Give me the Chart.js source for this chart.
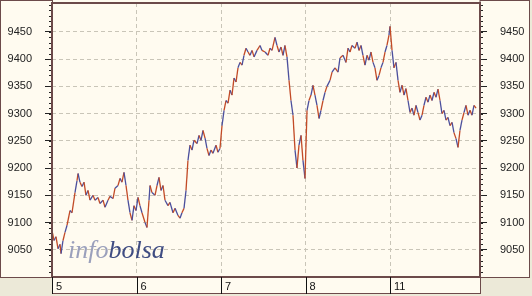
<!DOCTYPE html>
<html>
<head>
  <meta charset="UTF-8" />
  <title>infobolsa intraday</title>
  <style>
    * { margin: 0; padding: 0; }
    body { background: #ECE9D8; width: 532px; height: 296px; overflow: hidden; }
    canvas { display: block; }
  </style>
</head>
<body>
  <canvas id="chart" width="532" height="296"></canvas>

  <script src="https://cdn.jsdelivr.net/npm/chart.js"></script>
  <script>
    // session labels (one per day), position = day index
    const days = ['5', '6', '7', '8', '11'];
    const yTicks = [9050, 9100, 9150, 9200, 9250, 9300, 9350, 9400, 9450];

    // time in days since start of session "5"
    const times = [
      0.00, 0.024, 0.047, 0.071, 0.095, 0.107, 0.130, 0.154, 0.178, 0.213,
      0.237, 0.272, 0.296, 0.308, 0.331, 0.355, 0.379, 0.402, 0.426, 0.450,
      0.485, 0.509, 0.544, 0.568, 0.604, 0.627, 0.663, 0.686, 0.722, 0.746,
      0.781, 0.805, 0.828, 0.852, 0.876, 0.899, 0.923, 0.947, 0.970, 0.994,
      1.018, 1.041, 1.065, 1.101, 1.124, 1.148, 1.160, 1.183, 1.219, 1.243,
      1.266, 1.290, 1.314, 1.337, 1.373, 1.396, 1.432, 1.456, 1.491, 1.515,
      1.538, 1.562, 1.586, 1.609, 1.633, 1.657, 1.680, 1.716, 1.740, 1.763,
      1.787, 1.811, 1.834, 1.858, 1.882, 1.905, 1.941, 1.964, 1.988, 2.012,
      2.036, 2.059, 2.083, 2.107, 2.130, 2.154, 2.178, 2.201, 2.225, 2.249,
      2.272, 2.296, 2.320, 2.343, 2.367, 2.391, 2.426, 2.462, 2.485, 2.521,
      2.556, 2.580, 2.604, 2.639, 2.663, 2.686, 2.710, 2.734, 2.757, 2.781,
      2.805, 2.828, 2.852, 2.876, 2.899, 2.923, 2.947, 2.970, 2.994, 3.018,
      3.041, 3.065, 3.089, 3.112, 3.136, 3.160, 3.183, 3.207, 3.231, 3.254,
      3.290, 3.314, 3.349, 3.385, 3.408, 3.444, 3.479, 3.503, 3.527, 3.550,
      3.586, 3.610, 3.633, 3.657, 3.680, 3.704, 3.728, 3.751, 3.775, 3.799,
      3.822, 3.846, 3.870, 3.893, 3.917, 3.941, 3.964, 3.988, 4.000, 4.024,
      4.047, 4.071, 4.095, 4.118, 4.142, 4.166, 4.189, 4.213, 4.237, 4.260,
      4.284, 4.308, 4.331, 4.355, 4.379, 4.402, 4.426, 4.450, 4.473, 4.497,
      4.521, 4.544, 4.568, 4.592, 4.615, 4.639, 4.663, 4.686, 4.710, 4.734,
      4.757, 4.781, 4.805, 4.828, 4.852, 4.876, 4.899, 4.923, 4.947, 4.970,
      4.994, 5.018
    ];

    const prices = [
      9085, 9067, 9074, 9052, 9060, 9043, 9067, 9082, 9095, 9122,
      9118, 9155, 9177, 9190, 9174, 9166, 9174, 9150, 9159, 9141,
      9150, 9141, 9146, 9135, 9141, 9128, 9141, 9148, 9144, 9163,
      9168, 9181, 9174, 9192, 9168, 9141, 9118, 9104, 9131, 9122,
      9146, 9131, 9118, 9100, 9091, 9141, 9168, 9155, 9150, 9168,
      9183, 9159, 9168, 9141, 9131, 9137, 9118, 9126, 9113, 9108,
      9118, 9126, 9159, 9214, 9242, 9233, 9251, 9245, 9260, 9251,
      9269, 9255, 9236, 9223, 9233, 9227, 9242, 9229, 9236, 9278,
      9306, 9324, 9319, 9343, 9334, 9365, 9358, 9384, 9394, 9389,
      9407, 9420, 9413, 9407, 9416, 9404, 9416, 9425, 9416, 9413,
      9407, 9420, 9416, 9440, 9425, 9413, 9422, 9407, 9425, 9404,
      9361, 9324, 9297, 9233, 9200, 9242, 9260, 9214, 9181, 9306,
      9324, 9334, 9352, 9334, 9315, 9291, 9306, 9324, 9339, 9350,
      9361, 9376, 9384, 9376, 9402, 9407, 9394, 9420, 9413, 9425,
      9420, 9431, 9416, 9425, 9407, 9389, 9407, 9398, 9413, 9394,
      9384, 9361, 9370, 9384, 9394, 9413, 9425, 9444, 9460, 9416,
      9384, 9394, 9361, 9339, 9352, 9334, 9346, 9324, 9302, 9310,
      9297, 9315, 9302, 9288, 9297, 9315, 9330, 9321, 9334, 9324,
      9339, 9330, 9345, 9324, 9300, 9306, 9288, 9293, 9278, 9284,
      9265, 9254, 9238, 9269, 9288, 9302, 9315, 9297, 9306, 9297,
      9315, 9310
    ];

    const yMin = 9000;
    const yMax = 9503;
    const xMax = 5.065;

    const RED = '#c24a26';
    const BLUE = '#4b4f9c';
    const BORDER = '#6c4a4a';
    const CREAM = '#FFFBF0';
    const GRID = '#c9c5b8';

    const points = times.map((t, i) => ({ x: t, y: prices[i] }));

    const framePlugin = {
      id: 'frame',
      beforeDraw(chart) {
        const { ctx, chartArea: a } = chart;
        ctx.save();
        ctx.fillStyle = '#ECE9D8';
        ctx.fillRect(0, 0, chart.width, chart.height);
        ctx.fillStyle = CREAM;
        ctx.fillRect(0, 0, chart.width - 2, a.bottom);
        ctx.fillRect(a.left, a.bottom, a.right - a.left, 17);
        ctx.restore();
      },
      beforeDatasetsDraw(chart) {
        const { ctx, chartArea: a } = chart;
        ctx.save();
        ctx.font = 'italic 26px "Liberation Serif", serif';
        ctx.textBaseline = 'alphabetic';
        const x0 = a.left + 16;
        const y0 = a.bottom - 19;
        ctx.fillStyle = '#9ba0bc';
        ctx.fillText('info', x0, y0);
        const w = ctx.measureText('info').width;
        ctx.fillStyle = '#3f4c82';
        ctx.fillText('bolsa', x0 + w, y0);
        ctx.restore();
      },
      afterDraw(chart) {
        const { ctx, chartArea: a, scales } = chart;
        ctx.save();
        // minor ticks every 10 points on both value axes
        ctx.strokeStyle = '#222';
        ctx.lineWidth = 1;
        for (let v = yMin + 10; v < yMax; v += 10) {
          const y = Math.round(scales.y.getPixelForValue(v)) + 0.5;
          ctx.beginPath();
          ctx.moveTo(a.left - 3, y); ctx.lineTo(a.left, y);
          ctx.moveTo(a.right, y); ctx.lineTo(a.right + 3, y);
          ctx.stroke();
        }
        // panel borders
        ctx.strokeStyle = BORDER;
        ctx.lineWidth = 2;
        ctx.strokeRect(a.left, a.top, a.right - a.left, a.bottom - a.top);
        ctx.lineWidth = 1;
        ctx.strokeRect(0.5, 0.5, a.left, a.bottom);
        ctx.strokeRect(a.right, 0.5, chart.width - a.right - 2.5, a.bottom);
        ctx.strokeRect(a.left + 0.5, a.bottom + 0.5, a.right - a.left, 16);
        // day separators in the time strip
        ctx.strokeStyle = '#111';
        days.forEach((d, i) => {
          const x = Math.round(scales.x.getPixelForValue(i)) + 0.5;
          ctx.beginPath();
          ctx.moveTo(x, a.bottom);
          ctx.lineTo(x, a.bottom + 17);
          ctx.stroke();
        });
        ctx.restore();
      }
    };

    const valueAxis = (position) => ({
      type: 'linear',
      position,
      min: yMin,
      max: yMax,
      afterFit: s => { s.width = 52; s.paddingTop = 0; s.paddingBottom = 0; },
      afterBuildTicks: s => { s.ticks = yTicks.map(v => ({ value: v })); },
      border: { display: false, dash: [4, 3] },
      grid: {
        drawOnChartArea: position === 'left',
        color: GRID,
        tickLength: 7,
        tickColor: '#222',
        tickBorderDash: []
      },
      ticks: {
        color: '#222',
        padding: 13,
        font: { family: '"Liberation Sans", Arial, sans-serif', size: 11 },
        callback: v => String(v)
      }
    });

    new Chart(document.getElementById('chart'), {
      type: 'line',
      data: {
        datasets: [{
          data: points,
          borderWidth: 1.3,
          pointRadius: 0,
          tension: 0,
          borderColor: RED,
          segment: {
            borderColor: c => (c.p0DataIndex % 2 ? BLUE : RED)
          }
        }]
      },
      options: {
        responsive: false,
        animation: false,
        layout: { padding: { top: 3, left: 0, right: 0, bottom: 0 } },
        plugins: { legend: { display: false }, tooltip: { enabled: false } },
        scales: {
          x: {
            type: 'linear',
            min: 0,
            max: xMax,
            afterFit: s => { s.height = 19; s.paddingLeft = 0; s.paddingRight = 0; },
            afterBuildTicks: s => { s.ticks = days.map((d, i) => ({ value: i })); },
            border: { display: false, dash: [4, 3] },
            grid: {
              color: GRID,
              drawTicks: false
            },
            ticks: {
              align: 'start',
              labelOffset: 4,
              padding: 3,
              maxRotation: 0,
              color: '#111',
              font: { family: '"Liberation Sans", Arial, sans-serif', size: 11 },
              callback: v => days[v] ?? ''
            }
          },
          y: valueAxis('left'),
          y2: valueAxis('right')
        }
      },
      plugins: [framePlugin]
    });
  </script>
</body>
</html>
